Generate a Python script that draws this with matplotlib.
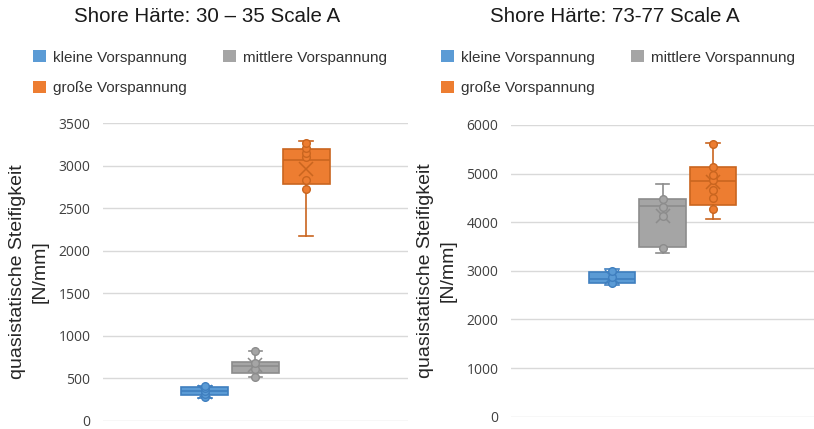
import matplotlib
matplotlib.use("Agg")
import matplotlib.pyplot as plt
from matplotlib.patches import Patch

# ---------------- data ----------------
series = ["kleine Vorspannung", "mittlere Vorspannung", "große Vorspannung"]
colors = ["#5B9BD5", "#A5A5A5", "#ED7D31"]
edges = ["#3F7FBF", "#8C8C8C", "#C9651F"]

titles = ["Shore Härte: 30 – 35 Scale A", "Shore Härte: 73-77 Scale A"]
ylabel = "quasistatische Steifigkeit\n[N/mm]"

# left chart (30-35 Shore A): whislo, q1, median, q3, whishi, mean
left_whislo = [271, 511, 2174]
left_q1 = [302, 558, 2782]
left_med = [345, 648, 3068]
left_q3 = [392, 695, 3194]
left_whishi = [408, 824, 3296]
left_mean = [340, 652, 2959]
left_points = [
    [275, 310, 350, 385, 405],
    [515, 605, 675, 815],
    [2724, 2833, 3107, 3155, 3206, 3265],
]
left_ticks = [0, 500, 1000, 1500, 2000, 2500, 3000, 3500]

# right chart (73-77 Shore A)
right_whislo = [2709, 3374, 4060]
right_q1 = [2744, 3497, 4361]
right_med = [2832, 4334, 4848]
right_q3 = [2983, 4478, 5130]
right_whishi = [3032, 4780, 5624]
right_mean = [2880, 4128, 4830]
right_points = [
    [2757, 2880, 3004],
    [3464, 4128, 4320, 4472],
    [4266, 4499, 4663, 4870, 4972, 5130, 5610],
]
right_ticks = [0, 1000, 2000, 3000, 4000, 5000, 6000]

positions = [-1, 0, 1]

# ---------------- figure ----------------
plt.rcParams["font.family"] = ["Liberation Sans", "DejaVu Sans"]
fig = plt.figure(figsize=(8.14, 4.29), dpi=100)

ax_l = fig.add_axes([0.1265, 0.0193, 0.3747, 0.6933])
ax_r = fig.add_axes([0.6278, 0.0287, 0.3722, 0.6800])


def draw(ax, wlo, q1, med, q3, whi, mean, pts, ticks):
    for i in range(3):
        st = [dict(whislo=wlo[i], q1=q1[i], med=med[i], q3=q3[i],
                   whishi=whi[i], mean=mean[i], fliers=[])]
        ax.bxp(st, positions=[positions[i]], widths=0.92, patch_artist=True,
               showmeans=True, showfliers=False,
               boxprops=dict(facecolor=colors[i], edgecolor=edges[i], linewidth=1.2),
               medianprops=dict(color=edges[i], linewidth=1.2),
               whiskerprops=dict(color=edges[i], linewidth=1.2),
               capprops=dict(color=edges[i], linewidth=1.2),
               capwidths=0.27,
               meanprops=dict(marker="x", markersize=10, markeredgecolor=edges[i],
                              markeredgewidth=1.1, zorder=4))
        ax.plot([positions[i]] * len(pts[i]), pts[i], linestyle="none",
                marker="o", markersize=5.5, markerfacecolor=colors[i],
                markeredgecolor=edges[i], markeredgewidth=1.0, zorder=5)
    ax.set_xlim(-3, 3)
    ax.set_ylim(ticks[0], ticks[-1])
    ax.set_yticks(ticks)
    ax.set_xticks([])
    ax.grid(axis="y", color="#D9D9D9", linewidth=1.0)
    ax.set_axisbelow(True)
    for s in ax.spines.values():
        s.set_visible(False)
    ax.tick_params(axis="y", length=0, pad=9, labelsize=10, labelcolor="#404040")
    for lab in ax.get_yticklabels():
        lab.set_family(["Open Sans", "DejaVu Sans"])
    ax.set_ylabel(ylabel, fontsize=14, color="#262626", labelpad=7, linespacing=1.45)


draw(ax_l, left_whislo, left_q1, left_med, left_q3, left_whishi, left_mean,
     left_points, left_ticks)
draw(ax_r, right_whislo, right_q1, right_med, right_q3, right_whishi, right_mean,
     right_points, right_ticks)

fig.text(206.7 / 814, 1 - 16 / 429, titles[0], ha="center", va="center",
         fontsize=14.8, color="#1A1A1A")
fig.text(614.7 / 814, 1 - 16 / 429, titles[1], ha="center", va="center",
         fontsize=14.8, color="#1A1A1A")

handles = [Patch(facecolor=c, edgecolor="none") for c in colors]
order = [0, 2, 1]
for x0 in (21 / 814, 429 / 814):
    fig.legend([handles[k] for k in order], [series[k] for k in order],
               ncol=2, loc="upper left", bbox_to_anchor=(x0, 1 - 38 / 429),
               frameon=False, fontsize=11, handlelength=0.85, handleheight=0.85,
               handletextpad=0.45, columnspacing=2.35, labelspacing=1.05,
               labelcolor="#333333", borderpad=0.3)

fig.savefig("out.png", dpi=100)
